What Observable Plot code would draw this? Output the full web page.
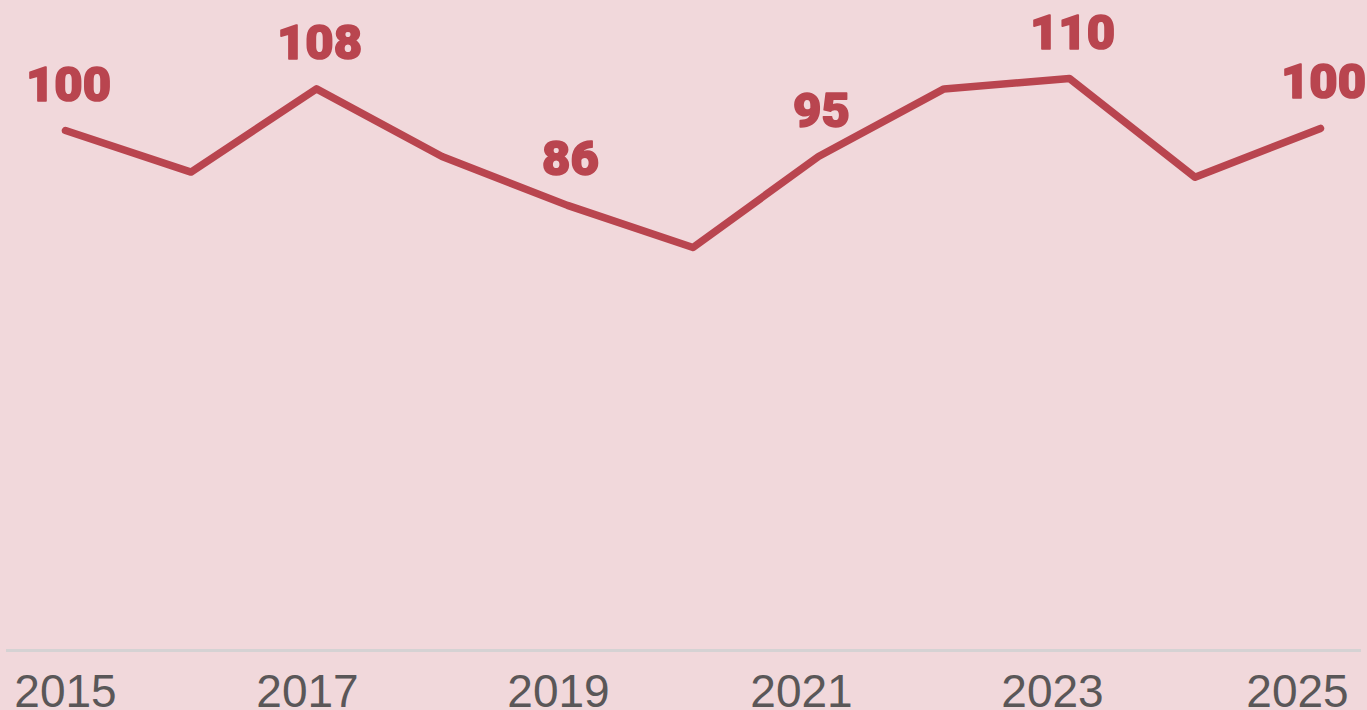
<!DOCTYPE html>
<html>
<head>
<meta charset="utf-8">
<script src="https://cdn.jsdelivr.net/npm/d3@7"></script>
<script src="https://cdn.jsdelivr.net/npm/@observablehq/plot@0.6"></script>
<style>
  html, body { margin: 0; padding: 0; background: #f1d8db; overflow: hidden; }
  #chart svg { display: block; }
</style>
</head>
<body>
<div id="chart"></div>
<script>
const years = [2015, 2016, 2017, 2018, 2019, 2020, 2021, 2022, 2023, 2024, 2025];
const values = [100, 92, 108, 95, 85.6, 77.5, 95, 108, 110, 91, 100.4];
const labeledYears = [2015, 2017, 2019, 2021, 2023, 2025];
const tickGroups = [
  {ticks: [2015], dx: 0},
  {ticks: [2017, 2019], dx: -9},
  {ticks: [2021, 2023], dx: -17},
  {ticks: [2025], dx: -23}
];

const data = years.map((year, i) => ({year, value: values[i]}));
const labeled = data.filter(d => labeledYears.includes(d.year));

const lineColor = "#b9454f";

const chart = Plot.plot({
  width: 1367,
  height: 710,
  marginTop: 0,
  marginBottom: 60,
  marginLeft: 65,
  marginRight: 47,
  style: {background: "#f1d8db", overflow: "visible"},
  x: {domain: [2015, 2025], axis: null},
  y: {domain: [0, 125], axis: null},
  marks: [
    Plot.ruleY([0], {stroke: "#d5d2d3", strokeWidth: 3, insetLeft: -59, insetRight: -41}),
    ...tickGroups.map(g => Plot.axisX({
      ticks: g.ticks,
      tickSize: 0,
      tickPadding: 24,
      tickFormat: d => String(d),
      fontSize: 46,
      fontFamily: "Liberation Sans, Arial, sans-serif",
      fill: "#5a5758",
      dx: g.dx,
      label: null
    })),
    Plot.line(data, {x: "year", y: "value", stroke: lineColor, strokeWidth: 7.5, strokeLinecap: "round", strokeLinejoin: "round"}),
    Plot.text(labeled, {
      x: "year", y: "value",
      text: d => String(Math.round(d.value)),
      lineAnchor: "bottom",
      dy: -30, dx: 3,
      fontSize: 49,
      fontWeight: 900,
      fontFamily: "Roboto, Liberation Sans, sans-serif",
      fill: lineColor,
      stroke: lineColor,
      strokeWidth: 1.6
    })
  ]
});
document.getElementById("chart").append(chart);
</script>
</body>
</html>
